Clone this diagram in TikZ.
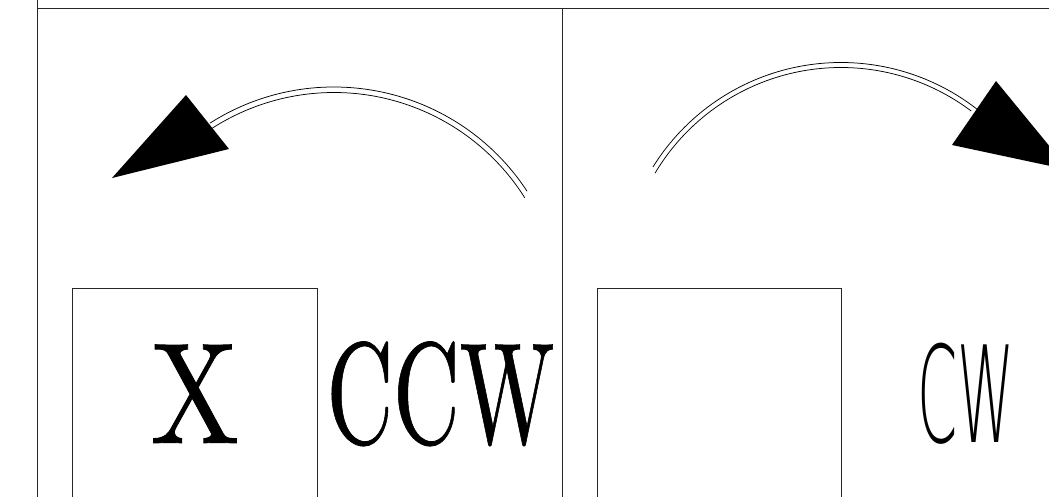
\documentclass[tikz,border=0pt]{standalone}
\usepackage{fontspec}
\newfontfamily\cwfont{DejaVu Sans ExtraLight}
\newfontfamily\bigserif{lmroman10-regular}[Extension=.otf, FakeBold=0.6]
\usepackage{graphicx}
\tikzset{
  frame/.style={draw=black!85, line width=1.1pt},
  arcline/.style={draw=black, line width=0.75pt},
  head/.style={fill=black, draw=none},
  bigtext/.style={anchor=base, inner sep=0pt, font=\bigserif\fontsize{144}{144}\selectfont},
  cwtext/.style={anchor=base, inner sep=0pt, font=\cwfont\fontsize{134}{134}\selectfont}
}
\begin{document}
\begin{tikzpicture}[x=1pt, y=-1pt]
\useasboundingbox (0,0) rectangle (1049,497);
\begin{scope}
\clip (0,0) rectangle (1049,497);
% frame
\coordinate (ftl) at (37.5,0);
\coordinate (fbl) at (37.5,500);
\coordinate (ttl) at (37.5,8.3);
\coordinate (ttr) at (1052,8.3);
\coordinate (mt) at (562.5,8.3);
\coordinate (mb) at (562.5,500);
\draw[frame] (ftl) -- (fbl);
\draw[frame] (ttl) -- (ttr);
\draw[frame] (mt) -- (mb);
% boxes
\draw[frame, line width=0.9pt] (72.7,500) -- (72.7,288.3) -- (317.3,288.3) -- (317.3,500);
\draw[frame, line width=0.9pt] (597.3,500) -- (597.3,288.3) -- (841.7,288.3) -- (841.7,500);
% left arc (CCW)
\coordinate (lc) at (334,318);
\draw[arcline] (lc) ++(-33.3:231) arc[start angle=-33.3, end angle=-122.5, radius=231];
\draw[arcline] (lc) ++(-32.2:225.5) arc[start angle=-32.2, end angle=-123.5, radius=225.5];
\fill[head] (112,178) -- (186,95) -- (229,149) -- cycle;
% right arc (CW)
\coordinate (rc) at (841,284);
\draw[arcline] (rc) ++(-148.1:221.5) arc[start angle=-148.1, end angle=-52, radius=221.5];
\draw[arcline] (rc) ++(-149.2:216.5) arc[start angle=-149.2, end angle=-53, radius=216.5];
\fill[head] (996,81) -- (952,145) -- (1069,170) -- cycle;
% texts
\node[bigtext] (x) at (195,443) {\scalebox{0.82}[1]{X}};
\node[bigtext] (ccw) at (440.5,443) {\scalebox{0.64}[1]{CCW}};
\node[cwtext] (cw) at (966,442) {\scalebox{0.43}[1]{CW}};
\end{scope}
\end{tikzpicture}
\end{document}
